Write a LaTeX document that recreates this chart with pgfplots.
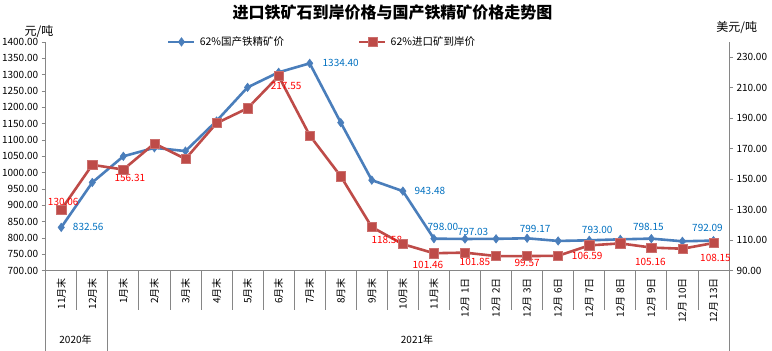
\documentclass[border=0pt]{standalone}
\usepackage{fontspec}
\setmainfont{Noto Sans CJK SC}
\usepackage{pgfplots}
\pgfplotsset{compat=1.18}
\usepackage{pgfplotstable}
\definecolor{blueline}{HTML}{4A7EBB}
\definecolor{redline}{HTML}{BE4B48}
\definecolor{bluelab}{HTML}{0070C0}
\definecolor{redlab}{HTML}{FF0000}
\definecolor{axisgray}{HTML}{868686}

\pgfplotstableread{
x y
0 832.56
1 970
2 1050
3 1076
4 1066
5 1158
6 1261
7 1307
8 1334.40
9 1153
10 977
11 943.48
12 798.00
13 797.03
14 797.5
15 799.17
16 791
17 793.00
18 796
19 798.15
20 790
21 792.09
}\bluedata

\pgfplotstableread{
x y
0 130.06
1 159.4
2 156.31
3 173.4
4 163.3
5 186.7
6 196.5
7 217.55
8 178.7
9 151.9
10 118.58
11 107.4
12 101.46
13 101.85
14 99.6
15 99.57
16 99.8
17 106.59
18 107.9
19 105.16
20 104.4
21 108.15
}\reddata

\newcommand{\blab}[4]{\node[anchor=center, inner sep=0pt, text=bluelab, font=\fontsize{10}{12}\selectfont, xshift=#3pt, yshift=#4pt] at (axis cs:#1,#2) {#2};}
\newcommand{\rlab}[4]{\node[anchor=center, inner sep=0pt, text=redlab, font=\fontsize{10}{12}\selectfont, xshift=#3pt, yshift=#4pt] at (axis cs:#1,#2) {#2};}

\begin{document}
\begin{tikzpicture}
\path[use as bounding box] (0,0) rectangle (772pt,351pt);

\begin{axis}[
  at={(45.7pt,80.3pt)}, anchor=south west,
  scale only axis, width=683.3pt, height=228.8pt,
  xmin=-0.5, xmax=21.5, ymin=700, ymax=1400,
  axis y line*=left, axis x line*=bottom,
  axis line style={axisgray, line width=0.8pt},
  ytick={700,750,...,1400},
  xtick={0,...,21},
  xticklabels={11月末,12月末,1月末,2月末,3月末,4月末,5月末,6月末,7月末,8月末,9月末,10月末,11月末,12月 1日,12月 2日,12月 3日,12月 6日,12月 7日,12月 8日,12月 9日,12月 10日,12月 13日},
  minor xtick={-0.5,0.5,...,21.5},
  tick align=outside,
  major tick length=4pt, minor tick length=39pt,
  tick style={axisgray, line width=0.8pt},
  major x tick style={draw=none},
  xticklabel style={rotate=90, anchor=east, font=\fontsize{10}{12}\selectfont},
  yticklabel style={font=\fontsize{10}{12}\selectfont, /pgf/number format/.cd, fixed, fixed zerofill, precision=2, 1000 sep={}, assume math mode=true},
  clip=false,
  legend style={at={(0.1775,1)}, anchor=west, draw=none, fill=none, inner sep=0pt,
    font=\fontsize{10.5}{12}\selectfont, column sep=2pt,
    /tikz/every even column/.append style={column sep=72pt}},
  legend columns=2,
  legend image code/.code={\draw[mark repeat=2, mark phase=2, #1] plot coordinates {(0pt,0pt) (13pt,0pt) (26pt,0pt)};},
]
\addplot[blueline, line width=2.6pt, mark=diamond*, mark size=4.2pt, mark options={line width=0.6pt, fill=blueline, draw=blueline}] table[x=x,y=y] {\bluedata};
\addlegendentry{62\%国产铁精矿价}
\addlegendimage{redline, line width=2.6pt, mark=square*, mark size=4.6pt, mark options={line width=0.6pt, fill=redline, draw=redline!80!white}}
\addlegendentry{62\%进口矿到岸价}
\blab{0}{832.56}{27}{0}
\blab{8}{1334.40}{31}{0}
\blab{11}{943.48}{27}{0}
\blab{12}{798.00}{9}{12}
\blab{13}{797.03}{8}{7}
\blab{15}{799.17}{8}{9}
\blab{17}{793.00}{8}{10}
\blab{19}{798.15}{-3}{12}
\blab{21}{792.09}{-6}{13}
\draw[axisgray, line width=0.8pt] (axis cs:-0.5,700) -- ++(0pt,-80.3pt);
\draw[axisgray, line width=0.8pt] (axis cs:1.5,700) -- ++(0pt,-80.3pt);
\draw[axisgray, line width=0.8pt] (axis cs:21.5,700) -- ++(0pt,-80.3pt);
\end{axis}

\begin{axis}[
  at={(45.7pt,80.3pt)}, anchor=south west,
  scale only axis, width=683.3pt, height=228.8pt,
  xmin=-0.5, xmax=21.5, ymin=90, ymax=240,
  axis y line*=right, axis x line=none,
  axis line style={axisgray, line width=0.8pt},
  ytick={90,110,...,230},
  tick align=outside,
  major tick length=4pt,
  tick style={axisgray, line width=0.8pt},
  yticklabel style={font=\fontsize{10}{12}\selectfont, /pgf/number format/.cd, fixed, fixed zerofill, precision=2, 1000 sep={}, assume math mode=true},
  clip=false,
]
\addplot[redline, line width=2.6pt, mark=square*, mark size=4.6pt, mark options={line width=0.6pt, fill=redline, draw=redline!80!white}] table[x=x,y=y] {\reddata};
\rlab{0}{130.06}{2}{8}
\rlab{2}{156.31}{6.5}{-8.7}
\rlab{7}{217.55}{7.5}{-9.3}
\rlab{10}{118.58}{15}{-12.5}
\rlab{12}{101.46}{-6}{-12}
\rlab{13}{101.85}{10}{-9}
\rlab{15}{99.57}{0}{-7}
\rlab{17}{106.59}{-2}{-11}
\rlab{19}{105.16}{-1}{-14}
\rlab{21}{108.15}{2}{-15}
\end{axis}

\node[font=\fontsize{16}{18}\selectfont\bfseries] at (392.5pt,339pt) {进口铁矿石到岸价格与国产铁精矿价格走势图};
\node[font=\fontsize{12}{14}\selectfont] at (39pt,319pt) {元/吨};
\node[font=\fontsize{12}{14}\selectfont] at (736.7pt,323pt) {美元/吨};
\node[font=\fontsize{10}{12}\selectfont] at (75.5pt,11pt) {2020年};
\node[font=\fontsize{10}{12}\selectfont] at (417pt,11pt) {2021年};
\end{tikzpicture}
\end{document}
